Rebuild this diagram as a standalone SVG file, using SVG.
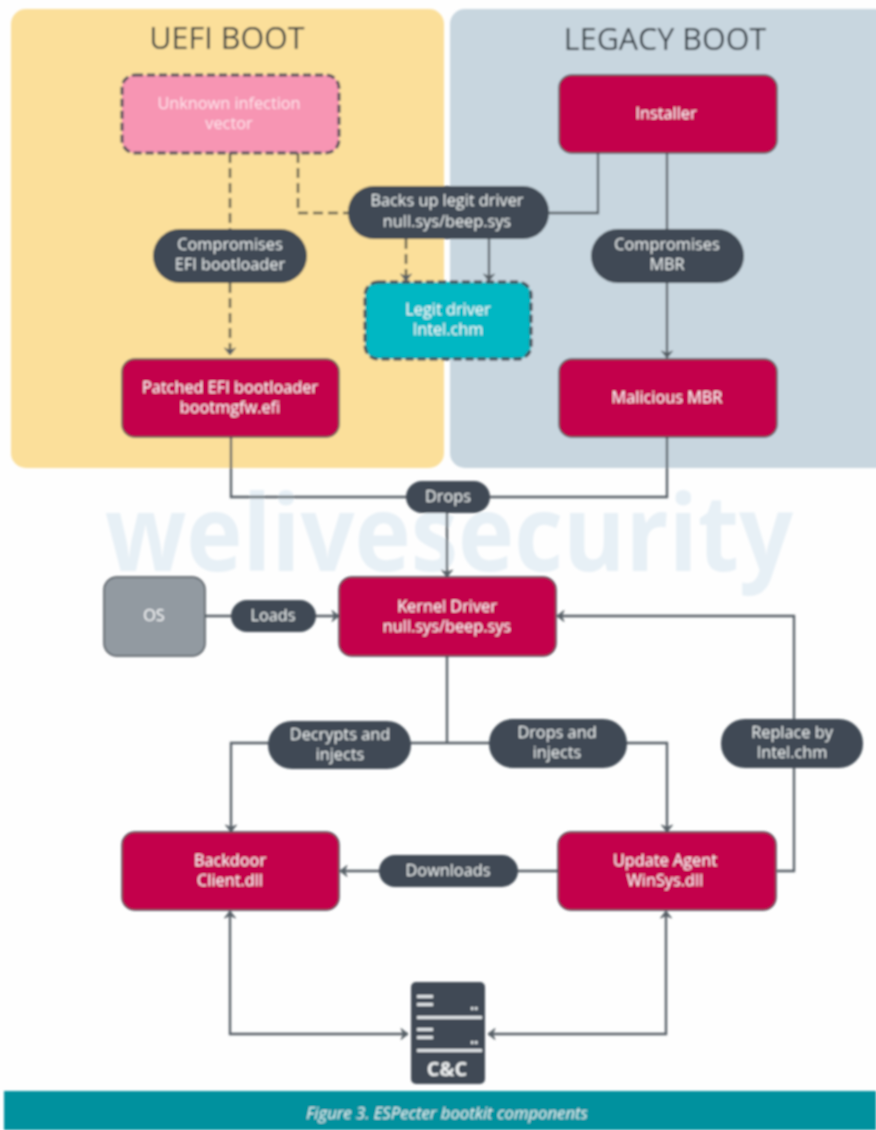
<svg xmlns="http://www.w3.org/2000/svg" width="876" height="1130" viewBox="0 0 876 1130">
<style>
text{font-family:"Open Sans","Noto Sans","Liberation Sans",sans-serif;text-anchor:middle}
.t{font-size:16.300px;font-weight:500;fill:#fff}
.p{font-size:16.300px;font-weight:500;fill:#eef1f2}
.title{font-size:30.500px;font-weight:500;fill:#2f3840}
.box{fill:#c3004c;stroke:#4a4a55;stroke-width:1.500}
.pill{fill:#3f4a54}
.ln{fill:none;stroke:#565f66;stroke-width:2.300}
.ds{fill:none;stroke:#5f5e4c;stroke-width:2.500;stroke-dasharray:10 5}
.bar{fill:#dfe3e6}
</style>
<defs>
<filter id="soft" x="-2%" y="-2%" width="104%" height="104%"><feGaussianBlur stdDeviation="0.8"/></filter>
<marker id="a" markerWidth="14" markerHeight="14" refX="10" refY="7" orient="auto-start-reverse" markerUnits="userSpaceOnUse"><path d="M3 1.500L10 7L3 12.500L5.500 7Z" fill="#565f66" stroke="#565f66" stroke-width="1"/></marker>
</defs>
<rect width="876" height="1130" fill="#fefefe"/>
<g filter="url(#soft)">
<text x="449" y="571" font-size="106" font-weight="700" fill="#e7f0f6" textLength="688" lengthAdjust="spacingAndGlyphs">welivesecurity</text>
<rect x="11" y="9" width="433" height="459" rx="15" fill="#fbdf9a"/>
<rect x="450" y="9" width="440" height="459" rx="15" fill="#c8d6df"/>
<text class="title" x="227" y="49">UEFI BOOT</text>
<text class="title" x="665" y="50">LEGACY BOOT</text>
<g id="connectors">
<path class="ds" d="M230 153V229M230 283V355" marker-end="url(#a)"/>
<path class="ds" d="M298 153V213H348"/>
<path class="ds" d="M406 239V281" marker-end="url(#a)"/>
<path class="ln" d="M489 239V281" marker-end="url(#a)"/>
<path class="ln" d="M598 153V213H549"/>
<path class="ln" d="M667 153V358" marker-end="url(#a)"/>
<path class="ln" d="M231 437V497H667V437"/>
<path class="ln" d="M447 497V577" marker-end="url(#a)"/>
<path class="ln" d="M205 616H339" marker-end="url(#a)"/>
<path class="ln" d="M777 871H794V616H557" marker-end="url(#a)"/>
<path class="ln" d="M447 656V743"/>
<path class="ln" d="M231 832V743H667V832" marker-start="url(#a)" marker-end="url(#a)"/>
<path class="ln" d="M558 871H340" marker-end="url(#a)"/>
<path class="ln" d="M230 911V1034H408" marker-start="url(#a)" marker-end="url(#a)"/>
<path class="ln" d="M666 911V1034H488" marker-start="url(#a)" marker-end="url(#a)"/>
</g>
<g id="unknown"><rect x="122" y="75" width="217" height="78" rx="13" fill="#f795b3" stroke="#55505a" stroke-width="3" stroke-dasharray="8 4"/><text class="t" x="229" y="109" fill-opacity=".75">Unknown infection</text><text class="t" x="229" y="129" fill-opacity=".75">vector</text></g>
<g id="installer"><rect class="box" x="559" y="75" width="218" height="78" rx="13"/><text class="t" x="666" y="119">Installer</text></g>
<g id="patched"><rect class="box" x="122" y="359" width="217" height="78" rx="13"/><text class="t" x="230" y="393">Patched EFI bootloader</text><text class="t" x="230" y="413">bootmgfw.efi</text></g>
<g id="mbr"><rect class="box" x="559" y="359" width="218" height="78" rx="13"/><text class="t" x="667" y="403">Malicious MBR</text></g>
<g id="legit"><rect x="365" y="282" width="166" height="77" rx="13" fill="#00b7c3" stroke="#3f4a54" stroke-width="3" stroke-dasharray="8 4"/><text class="t" x="448" y="315">Legit driver</text><text class="t" x="448" y="335">Intel.chm</text></g>
<g id="backs"><rect class="pill" x="348" y="186" width="201" height="53" rx="26"/><text class="p" x="447" y="206">Backs up legit driver</text><text class="p" x="447" y="227">null.sys/beep.sys</text></g>
<g id="comp-efi"><rect class="pill" x="153" y="229" width="154" height="54" rx="27"/><text class="p" x="230" y="250">Compromises</text><text class="p" x="230" y="270">EFI bootloader</text></g>
<g id="comp-mbr"><rect class="pill" x="591" y="229" width="153" height="54" rx="27"/><text class="p" x="667" y="250">Compromises</text><text class="p" x="667" y="270">MBR</text></g>
<g id="drops"><rect class="pill" x="406" y="481" width="84" height="32" rx="16"/><text class="p" x="448" y="502">Drops</text></g>
<g id="os"><rect x="104" y="577" width="101" height="79" rx="13" fill="#929aa1" stroke="#4a5158" stroke-width="1.500"/><text class="t" x="154" y="621">OS</text></g>
<g id="loads"><rect class="pill" x="231" y="600" width="85" height="32" rx="16"/><text class="p" x="273" y="621">Loads</text></g>
<g id="kernel"><rect class="box" x="339" y="577" width="217" height="79" rx="13"/><text class="t" x="447" y="612">Kernel Driver</text><text class="t" x="447" y="632">null.sys/beep.sys</text></g>
<g id="decrypts"><rect class="pill" x="268" y="721" width="143" height="48" rx="24"/><text class="p" x="340" y="740">Decrypts and</text><text class="p" x="340" y="760">injects</text></g>
<g id="dropsinj"><rect class="pill" x="489" y="719" width="138" height="49" rx="24"/><text class="p" x="557" y="738">Drops and</text><text class="p" x="557" y="758">injects</text></g>
<g id="replace"><rect class="pill" x="721" y="719" width="142" height="49" rx="24"/><text class="p" x="792" y="738">Replace by</text><text class="p" x="792" y="758">Intel.chm</text></g>
<g id="backdoor"><rect class="box" x="122" y="832" width="217" height="78" rx="13"/><text class="t" x="230" y="866">Backdoor</text><text class="t" x="230" y="886">Client.dll</text></g>
<g id="update"><rect class="box" x="558" y="832" width="218" height="78" rx="13"/><text class="t" x="665" y="866">Update Agent</text><text class="t" x="665" y="886">WinSys.dll</text></g>
<g id="downloads"><rect class="pill" x="379" y="855" width="139" height="32" rx="16"/><text class="p" x="448" y="876">Downloads</text></g>
<g id="cc"><rect class="pill" x="411" y="982" width="74" height="102" rx="5"/>
<rect class="bar" x="417" y="995" width="16" height="3"/><rect class="bar" x="417" y="1003" width="16" height="3"/><rect class="bar" x="471" y="1007" width="2.500" height="3"/><rect class="bar" x="475" y="1007" width="2.500" height="3"/><rect class="bar" x="417" y="1016" width="65" height="3"/>
<rect class="bar" x="417" y="1028" width="16" height="3"/><rect class="bar" x="417" y="1036" width="16" height="3"/><rect class="bar" x="471" y="1041" width="2.500" height="3"/><rect class="bar" x="475" y="1041" width="2.500" height="3"/><rect class="bar" x="417" y="1049" width="65" height="3"/>
<text x="447" y="1076" font-size="20" font-weight="700" fill="#eef0f1">C&amp;C</text></g>
<rect x="4" y="1091" width="872" height="39" fill="#00919e"/>
<text x="447" y="1119" font-size="16.700" font-style="italic" font-weight="400" fill="#e8f3f4">Figure 3. ESPecter bootkit components</text>
</g>
</svg>
